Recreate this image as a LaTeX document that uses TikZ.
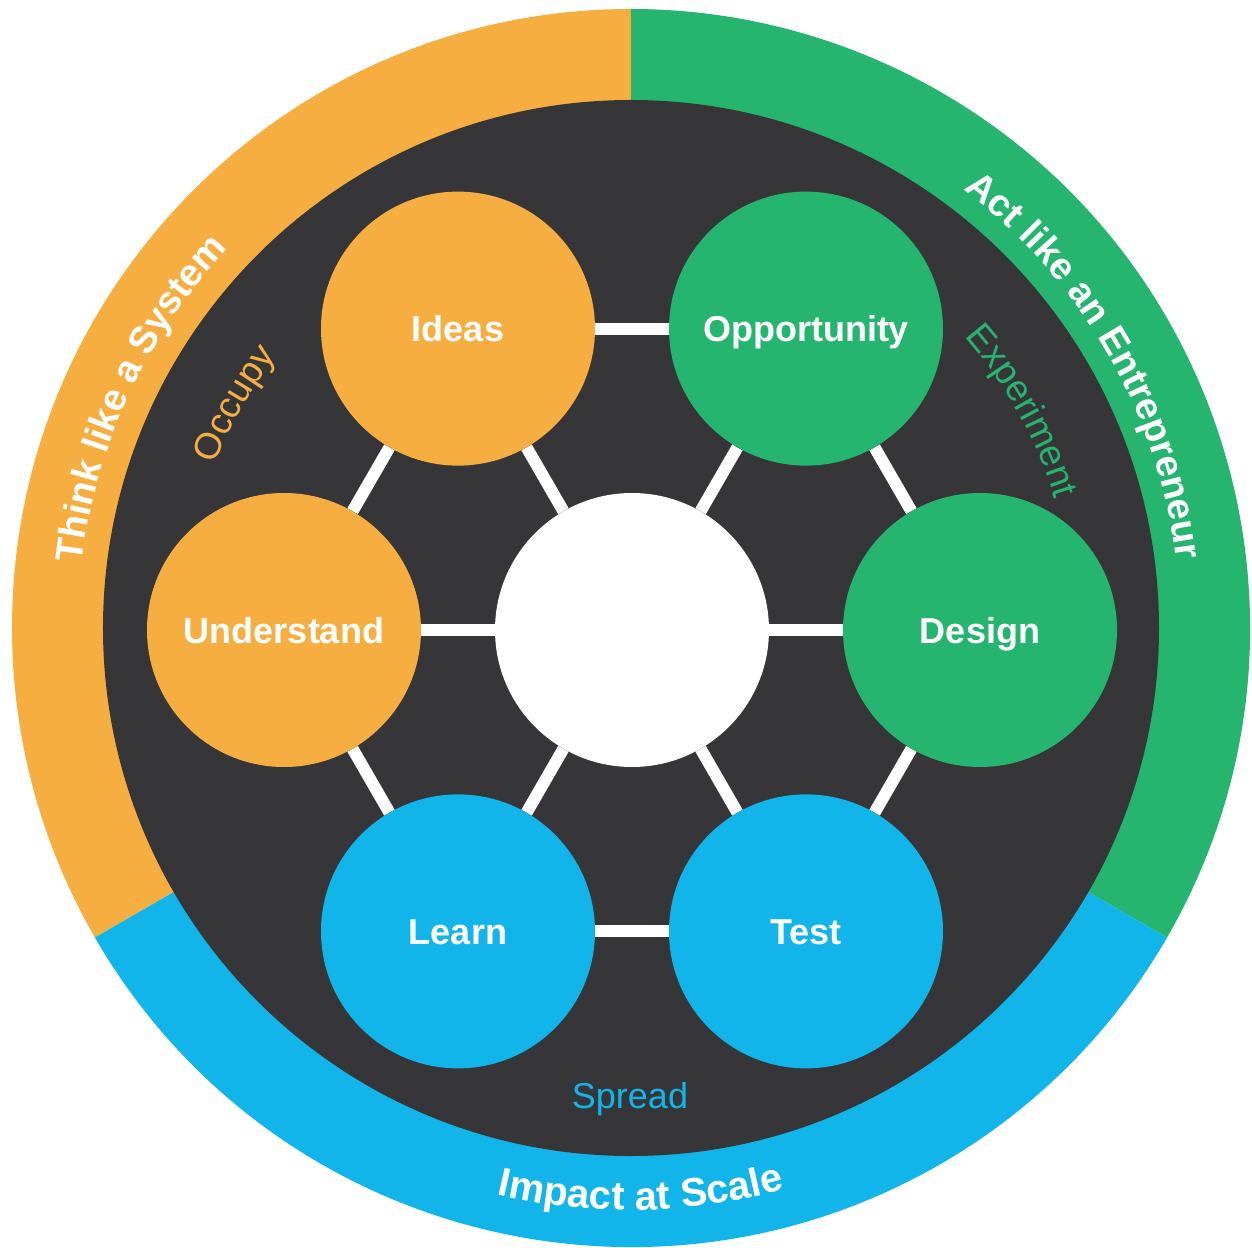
\documentclass[tikz,border=0pt]{standalone}
\usepackage{fontspec}
\setmainfont{Liberation Sans}
\usetikzlibrary{decorations.text,backgrounds}
\definecolor{cOrange}{HTML}{F7AE41}
\definecolor{cGreen}{HTML}{25B56F}
\definecolor{cBlue}{HTML}{12B5E9}
\definecolor{cDark}{HTML}{363639}
\newcommand\myArcFont{\color{white}\bfseries\fontsize{38}{40}\selectfont}
\newcommand\myBigArcFont{\color{white}\bfseries\fontsize{40}{42}\selectfont}
\newcommand\myOccFont{\color{cOrange}\fontsize{37}{40}\selectfont}
\newcommand\myExpFont{\color{cGreen}\fontsize{37}{40}\selectfont}
\tikzset{
  stage/.style={circle, minimum size=274pt, inner sep=0pt, text=white,
    font=\bfseries\fontsize{36}{40}\selectfont, text height=26pt, text depth=0pt},
  link/.style={white, line width=12pt},
  arctext/.style={decorate, decoration={text along path, text align=center, text={#1}}}
}
\begin{document}
\begin{tikzpicture}
\useasboundingbox (-631pt,-619pt) rectangle (621pt,628pt);
% stage nodes
\begin{scope}[shift={(1pt,-2pt)}]
\node[stage, fill=white] (hub) at (0pt,0pt) {};
\node[stage, fill=cOrange] (ideas) at (120:348pt) {Ideas};
\node[stage, fill=cGreen] (opp) at (60:348pt) {Opportunity};
\node[stage, fill=cOrange] (und) at (180:348pt) {Understand};
\node[stage, fill=cGreen] (des) at (0:348pt) {Design};
\node[stage, fill=cBlue] (learn) at (240:348pt) {Learn};
\node[stage, fill=cBlue] (test) at (300:348pt) {Test};
\end{scope}
\begin{scope}[on background layer]
  \fill[white] (-631pt,-619pt) rectangle (621pt,628pt);
  \fill[cOrange] (0pt,0pt) -- (90:619pt) arc[start angle=90, end angle=210, radius=619pt] -- cycle;
  \fill[cGreen] (0pt,0pt) -- (-30:619pt) arc[start angle=-30, end angle=90, radius=619pt] -- cycle;
  \fill[cBlue] (0pt,0pt) -- (210:619pt) arc[start angle=210, end angle=330, radius=619pt] -- cycle;
  \fill[cDark] (0pt,0pt) circle[radius=528pt];
  \draw[link] (ideas) -- (opp);
  \draw[link] (opp) -- (des);
  \draw[link] (des) -- (test);
  \draw[link] (test) -- (learn);
  \draw[link] (learn) -- (und);
  \draw[link] (und) -- (ideas);
  \draw[link] (hub) -- (ideas);
  \draw[link] (hub) -- (opp);
  \draw[link] (hub) -- (und);
  \draw[link] (hub) -- (des);
  \draw[link] (hub) -- (learn);
  \draw[link] (hub) -- (test);
\end{scope}
% ring texts
\path[arctext={|\myArcFont|Think like a System}] (185:553pt) arc[start angle=185, end angle=125, radius=553pt];
\path[arctext={|\myArcFont|Act like an Entrepreneur}] (60:550pt) arc[start angle=60, end angle=0, radius=550pt];
\path[arctext={|\myBigArcFont|Impact at Scale}] (240:582pt) arc[start angle=240, end angle=302, radius=582pt];
% inner texts
\path[arctext={|\myOccFont|Occupy}] (170:447pt) arc[start angle=170, end angle=131, radius=447pt];
\path[arctext={|\myExpFont|Experiment}] (49:443pt) arc[start angle=49, end angle=9, radius=443pt];
\node[anchor=base, text=cBlue, font=\fontsize{36}{40}\selectfont] (spread) at (-1pt,-480pt) {Spread};
\end{tikzpicture}
\end{document}
